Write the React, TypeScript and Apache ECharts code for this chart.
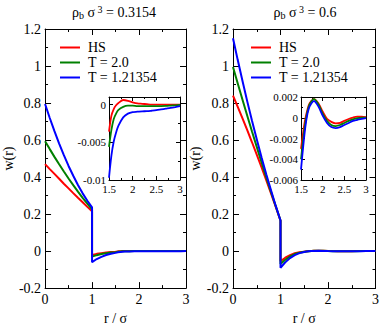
import React, { useEffect, useRef } from 'react';
import * as echarts from 'echarts';

// r / sigma sampling (r = 1 appears twice: contact value and value just outside the core)
const R = [0, 0.1, 0.2, 0.3, 0.4, 0.5, 0.6, 0.7, 0.8, 0.9, 1, 1, 1.1, 1.2, 1.3, 1.4, 1.5, 1.55, 1.6, 1.65,
  1.7, 1.8, 1.9, 2.0, 2.1, 2.2, 2.3, 2.4, 2.5, 2.6, 2.7, 2.8, 2.9, 3.0];

// rho_b sigma^3 = 0.3154
const HS_A = [0.47, 0.443, 0.417, 0.391, 0.364, 0.339, 0.313, 0.288, 0.264, 0.239, 0.215,
  -0.021, -0.015, -0.011, -0.0075, -0.0053, -0.0036, -0.0015, -0.0006, -0.0001,
  0.0002, 0.0006, 0.0005, 0.0003, 0.00015, 0.0001, 0.00005, 0, 0, 0, 0, 0, 0, 0];
const T20_A = [0.594, 0.551, 0.509, 0.469, 0.43, 0.392, 0.356, 0.321, 0.288, 0.256, 0.225,
  -0.03, -0.022, -0.016, -0.0115, -0.008, -0.0056, -0.0034, -0.0019, -0.0012,
  -0.0007, -0.0003, -0.00015, -0.00015, -0.0002, -0.0002, -0.0002, -0.0002, -0.0002, -0.0002, -0.00018, -0.00014, -0.0001, -0.00005];
const T121_A = [0.795, 0.719, 0.648, 0.581, 0.518, 0.46, 0.407, 0.357, 0.312, 0.272, 0.236,
  -0.06, -0.043, -0.031, -0.021, -0.0145, -0.0097, -0.0068, -0.0049, -0.0037,
  -0.0028, -0.0017, -0.0012, -0.001, -0.00095, -0.0009, -0.00088, -0.00082, -0.00075, -0.00065, -0.00055, -0.00045, -0.00033, -0.0002];

// rho_b sigma^3 = 0.6
const HS_B = [0.84, 0.779, 0.717, 0.653, 0.588, 0.521, 0.453, 0.383, 0.312, 0.239, 0.165,
  -0.055, -0.036, -0.022, -0.012, -0.0065, -0.003, -0.0014, -0.0001, 0.0008,
  0.0014, 0.0018, 0.0014, 0.0006, -0.0001, -0.0004, -0.00055, -0.0005, -0.0003, -0.00012, 0.00002, 0.0001, 0.0001, 0.00005];
const T20_B = [0.995, 0.906, 0.818, 0.731, 0.646, 0.563, 0.48, 0.399, 0.32, 0.242, 0.165,
  -0.07, -0.047, -0.029, -0.016, -0.0085, -0.004, -0.0021, -0.0005, 0.0006,
  0.0013, 0.0018, 0.0013, 0.0004, -0.0003, -0.0007, -0.0008, -0.0007, -0.0005, -0.0003, -0.00015, -0.00003, 0, 0];
const T121_B = [1.15, 1.032, 0.919, 0.809, 0.704, 0.604, 0.507, 0.415, 0.328, 0.244, 0.165,
  -0.09, -0.061, -0.038, -0.022, -0.011, -0.005, -0.0028, -0.0009, 0.0004,
  0.0011, 0.0016, 0.0011, 0.0002, -0.0005, -0.0009, -0.001, -0.0009, -0.0007, -0.0005, -0.0003, -0.0002, -0.0001, -0.00003];

const NAMES = ['HS', 'T = 2.0', 'T = 1.21354'];
const COLORS = ['#ff0000', '#008000', '#0000ff'];
const TITLES = ['0.3154', '0.6'];

const MAIN_X = { min: 0, max: 3, interval: 1 };
const MAIN_Y = { min: -0.2, max: 1.2, interval: 0.2 };
const INSET_X = { min: 1.5, max: 3, interval: 0.5 };
const INSET_Y_A = { min: -0.01, max: 0.001, interval: 0.005 };
const INSET_Y_B = { min: -0.006, max: 0.002, interval: 0.002 };
const INSET_FROM = 1.5;

const F = 'Liberation Serif';

const pairs = (vals: number[]) => R.map((r, i) => [r, vals[i]]);
const insetPairs = (vals: number[]) => pairs(vals).filter((p) => p[0] >= INSET_FROM - 1e-9);

function fmtMultiple(interval: number) {
  return (v: number) => {
    const k = v / interval;
    if (Math.abs(k - Math.round(k)) > 1e-6) return '';
    return String(+v.toFixed(6));
  };
}

function axis(kind: 'x' | 'y', pos: string, grid: number, sc: any, opts: any) {
  return {
    type: 'value',
    gridIndex: grid,
    position: pos,
    min: sc.min,
    max: sc.max,
    interval: sc.interval,
    axisLine: { show: true, onZero: false, lineStyle: { color: '#000', width: 1 } },
    axisTick: { show: true, inside: true, length: opts.tick, lineStyle: { color: '#000', width: 1 } },
    minorTick: { show: true, splitNumber: 2, length: opts.minor, lineStyle: { color: '#000', width: 1 } },
    splitLine: { show: false },
    minorSplitLine: { show: false },
    axisLabel: {
      show: !!opts.label,
      fontSize: opts.fontSize,
      fontFamily: F,
      color: '#000',
      margin: opts.margin,
      formatter: fmtMultiple(sc.interval),
      showMinLabel: true,
    },
    name: opts.name || '',
    nameLocation: 'middle',
    nameGap: opts.nameGap || 0,
    nameRotate: kind === 'y' ? 90 : 0,
    nameTextStyle: { fontSize: 14, fontFamily: F, color: '#000' },
  };
}

export default function App() {
  const ref = useRef<HTMLDivElement>(null);
  useEffect(() => {
    if (!ref.current) return;
    const chart = echarts.init(ref.current, undefined, { renderer: 'svg' });

    const grids = [
      { left: 42, top: 29, width: 144, height: 263 },
      { left: 233, top: 29, width: 144, height: 263 },
      { left: 109, top: 97, width: 71, height: 83 },
      { left: 301, top: 97, width: 65, height: 83 },
    ].map((g) => ({ ...g, show: false, containLabel: false }));

    const mainOpt = { tick: 6, minor: 3, fontSize: 14, margin: 4 };
    const insetOpt = { tick: 4, minor: 2, fontSize: 11, margin: 3 };

    const xAxis: any[] = [];
    const yAxis: any[] = [];
    [0, 1].forEach((g) => {
      xAxis.push(axis('x', 'bottom', g, MAIN_X, { ...mainOpt, label: true, name: 'r / σ', nameGap: 18 }));
      xAxis.push(axis('x', 'top', g, MAIN_X, { ...mainOpt, label: false }));
      yAxis.push(axis('y', 'left', g, MAIN_Y, { ...mainOpt, label: true, name: 'w(r)', nameGap: 24 }));
      yAxis.push(axis('y', 'right', g, MAIN_Y, { ...mainOpt, label: false }));
    });
    [2, 3].forEach((g) => {
      const ys = g === 2 ? INSET_Y_A : INSET_Y_B;
      xAxis.push(axis('x', 'bottom', g, INSET_X, { ...insetOpt, label: true }));
      xAxis.push(axis('x', 'top', g, INSET_X, { ...insetOpt, label: false }));
      yAxis.push(axis('y', 'left', g, ys, { ...insetOpt, label: true }));
      yAxis.push(axis('y', 'right', g, ys, { ...insetOpt, label: false }));
    });

    const panels = [
      [HS_A, T20_A, T121_A],
      [HS_B, T20_B, T121_B],
    ];
    const series: any[] = [];
    panels.forEach((vals, p) => {
      vals.forEach((v, i) => {
        series.push({
          type: 'line',
          name: NAMES[i],
          xAxisIndex: p * 2,
          yAxisIndex: p * 2,
          data: pairs(v),
          symbol: 'none',
          showSymbol: false,
          smooth: false,
          clip: true,
          itemStyle: { color: COLORS[i] },
          lineStyle: { color: COLORS[i], width: 2 },
          emphasis: { disabled: true },
          silent: true,
        });
      });
    });
    panels.forEach((vals, p) => {
      vals.forEach((v, i) => {
        series.push({
          type: 'line',
          name: NAMES[i],
          xAxisIndex: 4 + p * 2,
          yAxisIndex: 4 + p * 2,
          data: insetPairs(v),
          symbol: 'none',
          showSymbol: false,
          smooth: 0.3,
          clip: true,
          itemStyle: { color: COLORS[i] },
          lineStyle: { color: COLORS[i], width: 1.8 },
          emphasis: { disabled: true },
          silent: true,
        });
      });
    });

    const legendBase = {
      orient: 'vertical',
      top: 40,
      padding: 0,
      itemGap: 0,
      itemWidth: 20,
      itemHeight: 2,
      icon: 'rect',
      selectedMode: false,
      data: NAMES,
      textStyle: { fontSize: 14, fontFamily: F, color: '#000', lineHeight: 15, padding: [0, 0, 0, 3] },
    };

    const rich = {
      a: { fontSize: 14, fontFamily: F, fill: '#000', lineHeight: 16 },
      s: { fontSize: 10, fontFamily: F, fill: '#000', lineHeight: 10, verticalAlign: 'bottom', padding: [8, 0, 0, 0] },
      p: { fontSize: 10, fontFamily: F, fill: '#000', lineHeight: 10, verticalAlign: 'top' },
    };
    const centers = [114, 305];

    chart.setOption({
      animation: false,
      backgroundColor: '#fff',
      grid: grids,
      xAxis,
      yAxis,
      series,
      legend: [
        { ...legendBase, left: 60 },
        { ...legendBase, left: 251 },
      ],
      graphic: TITLES.map((t, i) => ({
        type: 'text',
        x: centers[i],
        y: 12,
        style: {
          text: '{a|ρ}{s|b}{a| σ}{p| 3}{a| = ' + t + '}',
          rich,
          align: 'center',
          verticalAlign: 'middle',
        },
      })),
    });

    return () => chart.dispose();
  }, []);

  return (
    <div
      ref={ref}
      style={{ position: 'absolute', left: 0, top: 0, width: 382, height: 330, background: '#fff' }}
    />
  );
}
